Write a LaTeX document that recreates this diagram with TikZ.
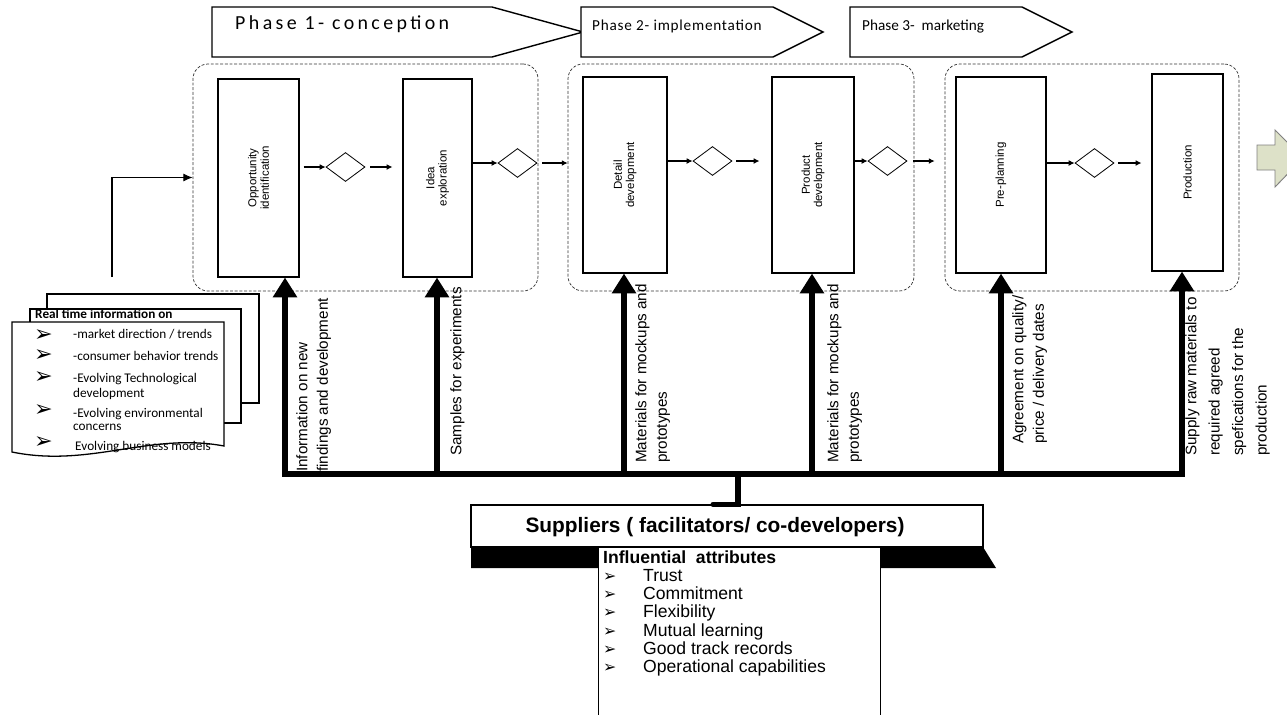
\documentclass[tikz,border=0pt]{standalone}
\usepackage{fontspec}
\setmainfont{Liberation Sans}
\newfontfamily\calib{Carlito}
\newfontfamily\calibwide[LetterSpace=17]{Carlito}
\newfontfamily\calibtrack[LetterSpace=5]{Carlito}
\newfontfamily\symf{DejaVu Sans}
\usetikzlibrary{shapes.geometric,arrows.meta}
\definecolor{nextfill}{RGB}{221,225,200}

\begin{document}
\begin{tikzpicture}[x=0.03cm, y=-0.03cm,
bigtip/.tip={Triangle[length=17pt,width=20pt]},
stagenode/.style={rectangle, draw=black, fill=white, line width=0.9pt, inner sep=0pt},
stagetext/.style={rotate=90, align=center, inner sep=0pt, font=\fontsize{9.8}{10.6}\selectfont},
gatenode/.style={diamond, draw=black, fill=white, line width=0.7pt, minimum width=1.17cm, minimum height=0.87cm, inner sep=0pt},
groupnode/.style={rectangle, rounded corners=0.45cm, draw=black!80, dash pattern=on 2.5pt off 1.5pt, line width=0.6pt, minimum height=6.81cm},
phasebox/.style={draw=black, fill=white, line width=1.2pt},
phasetext/.style={anchor=base west, inner sep=0pt, font=\calibtrack\fontsize{13}{15}\selectfont},
flow/.style={line width=0.9pt, -{Latex[length=5pt,width=5pt]}},
inflow/.style={line width=0.9pt, -{Latex[length=8pt,width=7pt]}},
feed/.style={line width=4.3pt, -bigtip},
bus/.style={line width=4.3pt, line cap=rect},
feedtext/.style={rotate=90, anchor=north west, align=left, inner sep=0pt, font=\fontsize{13}{17.5}\selectfont},
docpage/.style={draw=black, fill=white, line width=1.1pt},
doctext/.style={anchor=base west, inner sep=0pt, font=\calib\fontsize{11.3}{13}\selectfont},
docbul/.style={anchor=base west, inner sep=0pt, font=\symf\fontsize{19}{19}\selectfont},
supbox/.style={rectangle, draw=black, fill=white, line width=1.1pt},
suptext/.style={inner sep=0pt, font=\bfseries\fontsize{17.8}{20}\selectfont},
attrbox/.style={rectangle, draw=black, fill=white, line width=0.9pt},
attrtext/.style={anchor=base west, inner sep=0pt, font=\fontsize{15}{17}\selectfont},
attrbul/.style={anchor=base west, inner sep=0pt, font=\symf\fontsize{13.5}{13.5}\selectfont},
nextarrow/.style={draw=black!50, fill=nextfill, line width=0.8pt}
]
\fill[white] (0,0) rectangle (1287,714);
\useasboundingbox (0,0) rectangle (1287,714);

%Phases
\draw[phasebox] (212,7) -- (492,7) -- (583,32) -- (492,57) -- (212,57) -- cycle;
\draw[phasebox] (581,7) -- (773,7) -- (823,32) -- (773,57) -- (581,57) -- cycle;
\draw[phasebox] (850,7) -- (1022,7) -- (1072,32) -- (1022,57) -- (850,57) -- cycle;
\node[phasetext, font=\calibwide\fontsize{17}{19}\selectfont] (ph1) at (235,29.5) {Phase 1- conception};
\node[phasetext] (ph2) at (592,30.5) {Phase 2- implementation};
\node[phasetext, font=\calib\fontsize{13}{15}\selectfont] (ph3) at (862,30.5) {Phase 3-\ \ marketing};

%Groups
\node[groupnode, minimum width=10.35cm] (grp1) at (365.5,177.5) {};
\node[groupnode, minimum width=10.38cm] (grp2) at (741,177.5) {};
\node[groupnode, minimum width=8.82cm]  (grp3) at (1092,177.5) {};

%Stages
\node[stagenode, minimum width=2.43cm, minimum height=5.94cm, label={[stagetext]center:{Opportunity\\identification}}] (opp) at (258.5,178) {};
\node[stagenode, minimum width=2.07cm, minimum height=5.94cm, label={[stagetext]center:{Idea\\exploration}}] (idea) at (437.5,178) {};
\node[stagenode, minimum width=2.52cm, minimum height=5.88cm, label={[stagetext]center:{Detail\\development}}] (detail) at (625,175) {};
\node[stagenode, minimum width=2.46cm, minimum height=5.88cm, label={[stagetext]center:{Product\\development}}] (product) at (813,175) {};
\node[stagenode, minimum width=2.7cm, minimum height=5.88cm, label={[stagetext]center:{Pre-planning}}] (preplan) at (1001,175) {};
\node[stagenode, minimum width=2.13cm, minimum height=5.91cm, label={[stagetext]center:{Production}}] (production) at (1187.5,172.5) {};

%Gates
\node[gatenode] (g1) at (345.5,167) {};
\node[gatenode] (g2) at (517.5,163) {};
\node[gatenode] (g3) at (712.5,161) {};
\node[gatenode] (g4) at (887.5,161) {};
\node[gatenode] (g5) at (1094.5,163) {};

%Flow
\draw[flow, shorten <=0.12cm] (opp.east |- g1) -- (g1.west);
\draw[flow, shorten <=0.15cm, shorten >=0.3cm] (g1.east) -- (idea.west |- g1);
\draw[flow] (idea.east |- g2) -- (g2.west);
\draw[flow, shorten <=0.15cm] (g2.east) -- (grp2.west |- g2);
\draw[flow] (detail.east |- g3) -- (g3.west);
\draw[flow, shorten <=0.12cm, shorten >=0.36cm] (g3.east) -- (product.west |- g3);
\draw[flow] (product.east |- g4) -- (g4.west);
\draw[flow, shorten <=0.18cm, shorten >=0.3cm] (g4.east) -- (grp3.west |- g4);
\draw[flow] (preplan.east |- g5) -- (g5.west);
\draw[flow, shorten <=0.12cm, shorten >=0.3cm] (g5.east) -- (production.west |- g5);
\draw[nextarrow] (1257,145) -- (1275,145) -- (1275,130) -- (1303,158) -- (1275,187) -- (1275,170) -- (1257,170) -- cycle;

%Documents
\draw[docpage] (47,294) rectangle (259,403);
\draw[docpage] (30,309) rectangle (241,423);
\draw[docpage] (12,322) -- (224,322) -- (224,446) .. controls (150,432) and (90,468) .. (12,452) -- cycle;
\node[doctext, font=\calib\bfseries\fontsize{11.3}{13}\selectfont] (dochead) at (35,318) {Real time information on};
\node[docbul] (db1) at (34,341) {➢};
\node[docbul] (db2) at (34,361) {➢};
\node[docbul] (db3) at (34,383) {➢};
\node[docbul] (db4) at (34,416) {➢};
\node[docbul] (db5) at (34,448) {➢};
\node[doctext] (dt1) at (73,338) {-market direction / trends};
\node[doctext] (dt2) at (73,360) {-consumer behavior trends};
\node[doctext] (dt3) at (73,382) {-Evolving Technological};
\node[doctext] (dt3b) at (73,397) {development};
\node[doctext] (dt4) at (73,417) {-Evolving environmental};
\node[doctext] (dt4b) at (73,430) {concerns};
\node[doctext] (dt5) at (75,450) {Evolving business models};
\coordinate (info) at (112,277);
\draw[inflow] (info) |- (grp1.west);

%Suppliers
\fill[black] (471,547) -- (983,547) -- (996,568) -- (471,568) -- cycle;
\node[supbox, minimum width=15.36cm, minimum height=1.26cm] (sup) at (727,526) {};
\node[suptext] (suplabel) at (715,527) {Suppliers ( facilitators/ co-developers)};
\node[attrbox, minimum width=8.46cm, minimum height=5.4cm, anchor=north west] (attr) at (598,547) {};
\node[attrtext, font=\bfseries\fontsize{15}{17}\selectfont] (attrhead) at (603,563) {Influential\ \ attributes};
\foreach \attr [count=\i] in {Trust,Commitment,Flexibility,Mutual learning,Good track records,Operational capabilities}{
  \node[attrbul] (ab\i) at (603,563+18.3*\i) {➢};
  \node[attrtext] (at\i) at (643,563+18.3*\i) {\attr};
}

%Bus
\coordinate (b1) at (285,474);
\coordinate (b2) at (437,474);
\coordinate (b3) at (624,474);
\coordinate (b4) at (812,474);
\coordinate (b5) at (1001,474);
\coordinate (b6) at (1182,474);
\coordinate (stem) at (738,474);
\draw[line width=4.3pt, bigtip-bigtip] (b1 |- opp.south) -- (b1) -- (b6) -- (b6 |- production.south);
\draw[feed] (b2) -- (b2 |- idea.south);
\draw[feed] (b3) -- (b3 |- detail.south);
\draw[feed] (b4) -- (b4 |- product.south);
\draw[feed] (b5) -- (b5 |- preplan.south);
\draw[bus, line cap=round] (stem) -- (stem |- sup.north) -- ++(-25,0);
\node[feedtext] (lbl1) at (296,472) {Information on new\\findings and development};
\node[feedtext] (lbl2) at (450,456) {Samples for experiments};
\node[feedtext] (lbl3) at (635,463) {Materials for mockups and\\prototypes};
\node[feedtext] (lbl4) at (827,463) {Materials for mockups and\\prototypes};
\node[feedtext] (lbl5) at (1012,444) {Agreement on quality/\\price / delivery dates};
\node[feedtext, font=\fontsize{13}{20}\selectfont] (lbl6) at (1185,456) {Supply raw materials to\\required agreed\\spefications for the\\production};
\end{tikzpicture}
\end{document}
